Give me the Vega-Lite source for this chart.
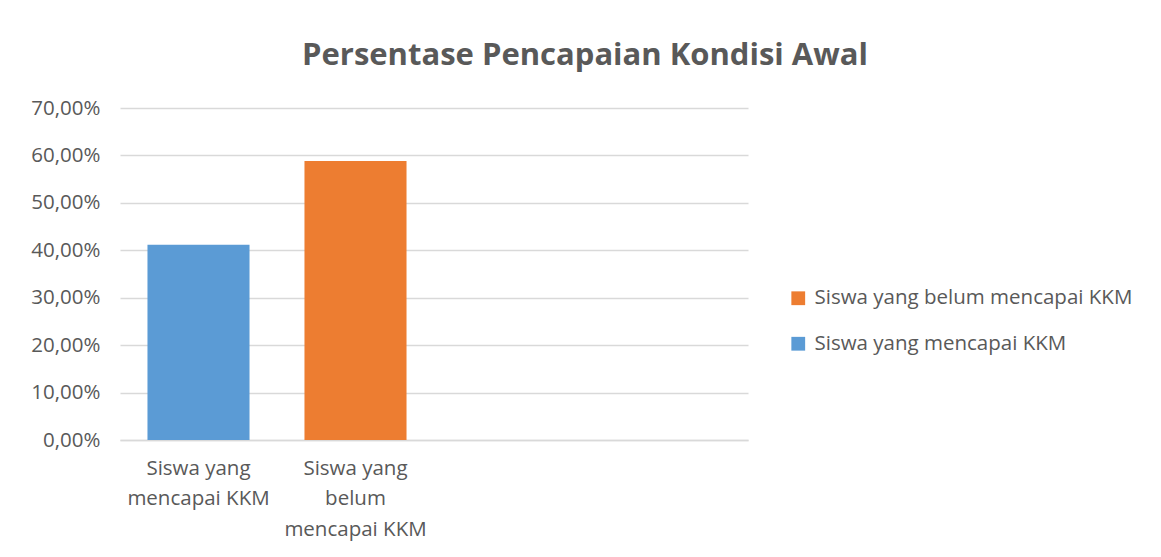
{
  "$schema": "https://vega.github.io/schema/vega-lite/v6.json",
  "autosize": {"type": "none"},
  "padding": {"left": 120, "top": 108, "right": 413, "bottom": 117},
  "width": 628,
  "height": 332,
  "background": "white",
  "title": {
    "text": "Persentase Pencapaian Kondisi Awal",
    "font": "Open Sans",
    "fontSize": 31,
    "fontWeight": "bold",
    "color": "#595959",
    "anchor": "middle",
    "frame": "group",
    "dx": 151,
    "offset": 26
  },
  "data": {
    "values": [
      {"kategori": "Siswa yang mencapai KKM", "persen": 0.4118},
      {"kategori": "Siswa yang belum mencapai KKM", "persen": 0.5882}
    ]
  },
  "mark": {"type": "bar"},
  "encoding": {
    "x": {
      "field": "kategori",
      "type": "nominal",
      "scale": {
        "domain": ["Siswa yang mencapai KKM", "Siswa yang belum mencapai KKM", "k3", "k4"],
        "paddingInner": 0.35,
        "paddingOuter": 0.175
      },
      "axis": {
        "title": null,
        "labelAngle": 0,
        "labelExpr": "datum.value == 'Siswa yang mencapai KKM' ? ['Siswa yang', 'mencapai KKM'] : datum.value == 'Siswa yang belum mencapai KKM' ? ['Siswa yang', 'belum', 'mencapai KKM'] : ''",
        "labelFont": "Open Sans",
        "labelFontSize": 20.5,
        "labelColor": "#595959",
        "labelLineHeight": 30.5,
        "labelPadding": 18,
        "labelBaseline": "top",
        "labelLimit": 0,
        "ticks": false,
        "domainColor": "#d9d9d9",
        "domainWidth": 1.5,
        "grid": false
      }
    },
    "y": {
      "field": "persen",
      "type": "quantitative",
      "scale": {"domain": [0, 0.7]},
      "axis": {
        "title": null,
        "values": [0, 0.1, 0.2, 0.3, 0.4, 0.5, 0.6, 0.7],
        "labelExpr": "replace(format(datum.value, '.2%'), '.', ',')",
        "labelFont": "Open Sans",
        "labelFontSize": 20.5,
        "labelColor": "#595959",
        "labelPadding": 20,
        "ticks": false,
        "domain": false,
        "gridColor": "#d9d9d9",
        "gridWidth": 1.5
      }
    },
    "color": {
      "field": "kategori",
      "type": "nominal",
      "scale": {
        "domain": ["Siswa yang belum mencapai KKM", "Siswa yang mencapai KKM"],
        "range": ["#ED7D31", "#5B9BD5"]
      },
      "legend": {
        "title": null,
        "orient": "none",
        "legendX": 668,
        "legendY": 180,
        "symbolType": "square",
        "symbolSize": 190,
        "symbolStrokeWidth": 0,
        "labelFont": "Open Sans",
        "labelFontSize": 20.5,
        "labelColor": "#595959",
        "labelLimit": 0,
        "rowPadding": 24.5,
        "labelOffset": 6
      }
    }
  },
  "config": {"view": {"stroke": null}}
}
